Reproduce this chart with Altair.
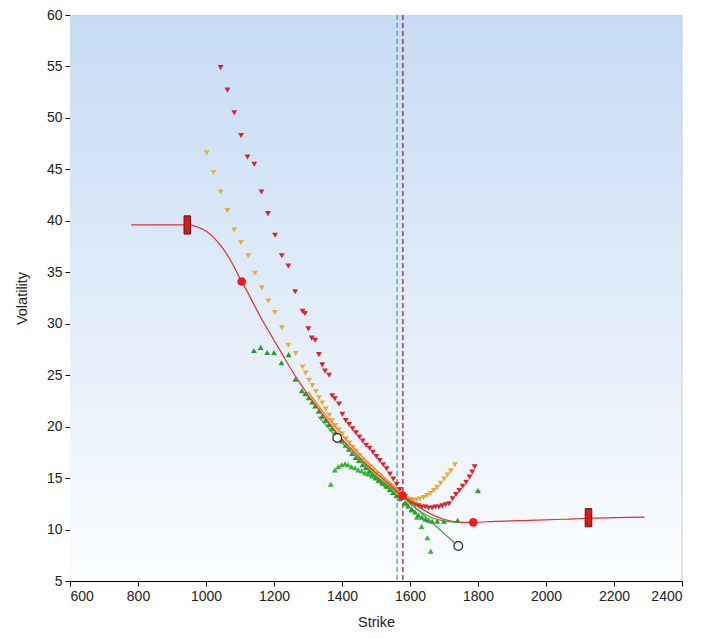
import altair as alt
import pandas as pd

# ---- data ----
red_tri_x = [1043,1063,1083,1103,1122,1142,1163,1182,1203,1223,1242,1262,1284,1291,1301,1311,1321,1332,1342,1350,1362,1371,1379,1391,1401,1411,1421,1431,1441,1451,1461,1471,1481,1491,1501,1511,1521,1531,1541,1551,1561,1570,
             1585,1595,1605,1615,1625,1635,1645,1655,1665,1675,1685,1695,1705,1715,1725,1735,1745,1755,1765,1775,1783,1790]
red_tri_y = [54.9,52.7,50.5,48.3,46.2,45.5,42.8,40.7,38.6,36.6,35.6,33.1,31.2,31.0,29.5,28.6,28.4,27.0,26.0,25.4,25.0,23.0,22.7,22.2,21.2,20.6,20.2,19.8,19.4,19.0,18.6,18.2,17.9,17.5,17.1,16.7,16.3,15.9,15.4,14.9,14.4,13.9,
             13.2,12.8,12.5,12.4,12.3,12.2,12.2,12.1,12.1,12.2,12.2,12.3,12.4,12.5,13.0,13.4,13.8,14.2,14.6,15.1,15.6,16.1]

orange_tri_x = [1002,1022,1043,1063,1083,1103,1124,1144,1164,1183,1203,1223,1242,1264,1284,1293,1303,1313,1323,1332,1342,1352,1362,1371,1381,1391,1401,1411,1421,1431,1441,1451,1461,1471,1481,1491,1501,1511,1521,1531,1541,1551,1561,1571,
                1590,1600,1610,1620,1630,1640,1650,1660,1670,1680,1690,1700,1710,1720,1732]
orange_tri_y = [46.6,44.7,42.8,41.0,39.1,37.9,36.6,34.9,33.5,32.2,31.1,29.6,27.9,27.1,25.8,25.2,24.5,24.0,23.4,22.8,22.3,21.7,21.1,20.6,20.1,19.7,19.3,18.8,18.4,18.0,17.6,17.2,16.8,16.4,16.1,15.7,15.4,15.1,14.8,14.5,14.2,13.9,13.6,13.3,
                13.0,12.9,12.9,12.9,13.0,13.1,13.3,13.5,13.8,14.1,14.5,14.9,15.3,15.7,16.3]

green_tri_x = [1141,1161,1180,1200,1222,1243,1263,1282,1292,1302,1312,1321,1331,1341,1351,1361,1370,1380,1390,1400,1410,1420,1430,1440,1450,1460,1470,1480,1490,1500,1510,1520,1530,1540,1550,1560,1570,
               1585,1595,1605,1615,1625,1635,1645,1655,1665,1680,1700,1740,1800]
green_tri_y = [27.4,27.7,27.2,27.2,26.2,27.0,24.6,23.5,23.2,22.8,22.4,22.0,21.5,21.0,20.6,20.2,19.8,19.4,19.0,18.6,18.2,17.8,17.4,17.0,16.7,16.3,16.0,15.7,15.4,15.1,14.8,14.5,14.2,13.9,13.6,13.3,13.0,
               12.6,12.3,12.0,11.7,11.4,11.2,11.0,10.9,10.8,10.8,10.8,10.9,13.8]

green2_tri_x = [1367,1379,1389,1399,1409,1418,1428,1438,1448,1458,1468,1478,1488,1498,1507,1517,1527,1537,1546,1556,1566,1590,1605,1620,1634,1651,1661]
green2_tri_y = [14.4,15.8,16.1,16.3,16.4,16.3,16.1,16.0,15.8,15.7,15.5,15.4,15.2,15.0,14.8,14.6,14.4,14.2,13.9,13.7,13.4,12.5,11.9,11.2,10.3,9.2,7.9]

red_line_x = [780,950,975,1000,1025,1050,1075,1100,1125,1150,1175,1200,1225,1250,1275,1300,1325,1350,1375,1400,1425,1450,1475,1500,1525,1550,1578,1600,1625,1650,1675,1700,1725,1750,1786,1850,1950,2050,2125,2200,2290]
red_line_y = [39.6,39.6,39.4,39.0,38.3,37.3,36.0,34.4,32.9,31.3,29.8,28.4,27.0,25.6,24.3,23.1,22.0,20.9,19.8,18.8,17.9,17.0,16.2,15.5,14.8,14.1,13.3,12.8,12.2,11.7,11.3,11.0,10.8,10.7,10.7,10.8,10.9,11.0,11.1,11.15,11.2]

orange_line_x = [1300,1350,1400,1450,1500,1550,1578,1620]
orange_line_y = [23.4,21.2,19.2,17.4,15.8,14.3,13.4,12.6]

green_line_x = [1330,1386,1450,1500,1578,1660,1742]
green_line_y = [21.0,18.9,16.8,15.2,13.2,10.8,8.4]

green_line2_x = [1578,1620,1660,1700,1740]
green_line2_y = [13.2,12.0,11.2,10.85,10.7]

red_rect_x = [945,2125]
red_rect_y = [39.6,11.15]

red_dot_x = [1105,1578,1786]
red_dot_y = [34.1,13.3,10.7]

white_dot_x = [1386,1742]
white_dot_y = [18.9,8.4]

vline_x = [1562,1579]
vline_col = ["#2ab0b0", "#a0203a"]

W, H = 612, 566
FONT = "Liberation Sans"

axis_style = dict(labelFont=FONT, titleFont=FONT, labelFontSize=14, titleFontSize=14.5,
                  titleFontWeight="normal", labelColor="#222222", titleColor="#222222",
                  domainColor="#000000", tickColor="#000000", tickSize=5, labelPadding=3)

xs = alt.Scale(domain=[600, 2400], nice=False, zero=False)
ys = alt.Scale(domain=[5, 60], nice=False, zero=False)
X = alt.X("x:Q", scale=xs, title="Strike",
          axis=alt.Axis(values=list(range(600, 2401, 200)), grid=False, format="d",
                        titlePadding=12, **axis_style))
Y = alt.Y("y:Q", scale=ys, title="Volatility",
          axis=alt.Axis(values=list(range(5, 61, 5)), grid=True, gridColor="#c4c8cc",
                        titlePadding=17, **axis_style))


def df(xv, yv):
    return pd.DataFrame({"x": xv, "y": yv})


bg = alt.Chart(pd.DataFrame({"a": [0]})).mark_rect(
    color=alt.LinearGradient(
        gradient="linear",
        stops=[alt.GradientStop(color="#c6dbf4", offset=0),
               alt.GradientStop(color="#fbfdff", offset=1)],
        x1=0, x2=0, y1=0, y2=1)
).encode(x=alt.value(0), x2=alt.value(W), y=alt.value(0), y2=alt.value(H))

axes = alt.Chart(df(red_line_x, red_line_y)).mark_point(opacity=0).encode(x=X, y=Y)

border = alt.Chart(pd.DataFrame({"a": [0]})).mark_rule(color="#cccccc", strokeWidth=1).encode(
    x=alt.value(W), y=alt.value(0), y2=alt.value(H))

vlines = alt.Chart(pd.DataFrame({"x": vline_x, "c": vline_col})).mark_rule(
    strokeDash=[5, 3], strokeWidth=1.3).encode(
    x=alt.X("x:Q", scale=xs), color=alt.Color("c:N", scale=None))


def line(xv, yv, color, w=1.2):
    return alt.Chart(df(xv, yv)).mark_line(color=color, strokeWidth=w, interpolate="monotone").encode(
        x=alt.X("x:Q", scale=xs), y=alt.Y("y:Q", scale=ys))


def pts(xv, yv, shape, color, size=34):
    return alt.Chart(df(xv, yv)).mark_point(shape=shape, filled=True, color=color, size=size, opacity=1).encode(
        x=alt.X("x:Q", scale=xs), y=alt.Y("y:Q", scale=ys))


layers = [
    bg, axes, border, vlines,
    pts(green2_tri_x, green2_tri_y, "triangle-up", "#33b533"),
    pts(green_tri_x, green_tri_y, "triangle-up", "#2a9a2a"),
    pts(orange_tri_x, orange_tri_y, "triangle-down", "#e8ac3a"),
    pts(red_tri_x, red_tri_y, "triangle-down", "#e0202a"),
    line(red_line_x, red_line_y, "#e03030"),
    line(orange_line_x, orange_line_y, "#f08a20", 1.4),
    line(green_line_x, green_line_y, "#3aa83a", 1.2),
    line(green_line2_x, green_line2_y, "#3aa83a", 1.2),
    alt.Chart(df(red_rect_x, red_rect_y)).mark_point(
        shape="M-0.36,-1L0.36,-1L0.36,1L-0.36,1Z", filled=True, color="#d41e1e",
        stroke="#6a0f0f", strokeWidth=1, size=330, opacity=1).encode(
        x=alt.X("x:Q", scale=xs), y=alt.Y("y:Q", scale=ys)),
    alt.Chart(df(red_dot_x, red_dot_y)).mark_point(
        shape="circle", filled=True, color="#ee1c1c", size=75, opacity=1).encode(
        x=alt.X("x:Q", scale=xs), y=alt.Y("y:Q", scale=ys)),
    alt.Chart(df(white_dot_x, white_dot_y)).mark_point(
        shape="circle", filled=True, fill="white", stroke="#222222", strokeWidth=1.2,
        size=75, opacity=1).encode(
        x=alt.X("x:Q", scale=xs), y=alt.Y("y:Q", scale=ys)),
]

chart = alt.layer(*layers).properties(
    width=W, height=H,
    autosize=alt.AutoSizeParams(type="none"),
    padding={"left": 62, "top": 7, "right": 10, "bottom": 50},
).configure_view(stroke=None)

chart.save("out.html", embed_options={"renderer": "svg", "actions": False})
